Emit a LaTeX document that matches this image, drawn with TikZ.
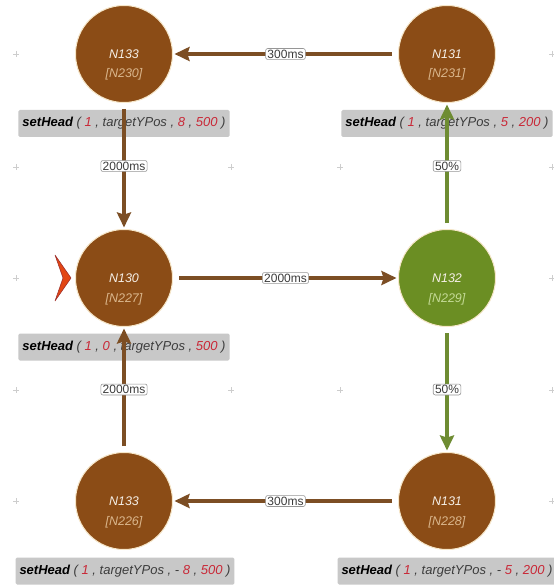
\documentclass[tikz,border=0pt]{standalone}
\usepackage{fontspec}
\setmainfont{Liberation Sans}
\usetikzlibrary{arrows.meta}

\definecolor{brownfill}{RGB}{139,76,22}
\definecolor{brownline}{RGB}{124,78,36}
\definecolor{greenfill}{RGB}{107,142,35}
\definecolor{greenline}{RGB}{110,140,50}
\definecolor{rimcol}{RGB}{246,230,200}
\definecolor{idtan}{RGB}{218,182,140}
\definecolor{idgreen}{RGB}{196,218,150}
\definecolor{titlecol}{RGB}{246,240,232}
\definecolor{boxgray}{RGB}{200,200,200}
\definecolor{argred}{RGB}{200,40,55}
\definecolor{argdark}{RGB}{60,60,60}
\definecolor{labtext}{RGB}{60,60,60}
\definecolor{labframe}{RGB}{150,150,150}
\definecolor{startred}{RGB}{226,70,20}
\definecolor{startdark}{RGB}{150,40,40}
\definecolor{gridplus}{RGB}{205,205,205}

\tikzset{
  state/.style={circle, minimum size=97pt, inner sep=0pt, draw=rimcol, line width=1pt},
  brownstate/.style={state, fill=brownfill},
  greenstate/.style={state, fill=greenfill},
  statetext/.style={font=\itshape\fontsize{12.5}{19.5}\selectfont, align=center, inner sep=0pt},
  actionbox/.style={fill=boxgray, rounded corners=1.5pt, minimum height=27pt, inner xsep=4pt,
    font=\itshape\fontsize{13}{15}\selectfont},
  bedge/.style={draw=brownline, line width=4pt,
    -{Stealth[length=15pt,width=14pt,inset=2pt]}, shorten <=6pt, shorten >=1.5pt},
  gedge/.style={bedge, draw=greenline},
  elabel/.style={fill=white, draw=labframe, rounded corners=2pt, line width=0.6pt,
    inner xsep=1.8pt, inner ysep=1.2pt, text=labtext, font=\fontsize{12}{13}\selectfont},
  plusmark/.style={draw=gridplus, line width=0.6pt}
}

% setHead ( a , b , c , d ) with numbers in red
\newcommand{\shsep}{\ \textcolor{argdark}{,}\ }
\newcommand{\shcall}[4]{\textcolor{black}{\textbf{setHead}}\ \textcolor{argdark}{(}\ #1\shsep #2\shsep #3\shsep #4\ \textcolor{argdark}{)}}
\newcommand{\shnum}[1]{\textcolor{argred}{#1}}
\newcommand{\shvar}[1]{\textcolor{argdark}{#1}}

\begin{document}
\begin{tikzpicture}[x=1pt,y=-1pt]
\useasboundingbox (0,0) rectangle (553,585);
\fill[white] (0,0) rectangle (553,585);

% background grid crosses
\foreach \py in {54,167,278,390,501} {
  \foreach \px in {16,552} {
    \draw[plusmark] (\px-3,\py) -- (\px+3,\py) (\px,\py-3) -- (\px,\py+3);
  }
}
\foreach \py in {167,390} {
  \foreach \px in {231,340} {
    \draw[plusmark] (\px-3,\py) -- (\px+3,\py) (\px,\py-3) -- (\px,\py+3);
  }
}

% states
\node[brownstate] (n230) at (124,54) {};
\node[brownstate] (n231) at (447,54) {};
\node[brownstate] (n227) at (124,278) {};
\node[greenstate] (n229) at (447,278) {};
\node[brownstate] (n226) at (124,501) {};
\node[brownstate] (n228) at (447,501) {};

% state captions (name on the centre line, id below)
\node[statetext, anchor=base] (t230) at ([yshift=-24pt]n230.center) {\textcolor{titlecol}{N133}\\\textcolor{idtan}{[N230]}};
\node[statetext, anchor=base] (t231) at ([yshift=-24pt]n231.center) {\textcolor{titlecol}{N131}\\\textcolor{idtan}{[N231]}};
\node[statetext, anchor=base] (t227) at ([yshift=-24pt]n227.center) {\textcolor{titlecol}{N130}\\\textcolor{idtan}{[N227]}};
\node[statetext, anchor=base] (t229) at ([yshift=-24pt]n229.center) {\textcolor{titlecol}{N132}\\\textcolor{idgreen}{[N229]}};
\node[statetext, anchor=base] (t226) at ([yshift=-24pt]n226.center) {\textcolor{titlecol}{N133}\\\textcolor{idtan}{[N226]}};
\node[statetext, anchor=base] (t228) at ([yshift=-24pt]n228.center) {\textcolor{titlecol}{N131}\\\textcolor{idtan}{[N228]}};

% action boxes
\node[actionbox] (a230) at (124,123.5) {\shcall{\shnum{1}}{\shvar{targetYPos}}{\shnum{8}}{\shnum{500}}};
\node[actionbox] (a231) at (447,123.5) {\shcall{\shnum{1}}{\shvar{targetYPos}}{\shnum{5}}{\shnum{200}}};
\node[actionbox] (a227) at (124,347) {\shcall{\shnum{1}}{\shnum{0}}{\shvar{targetYPos}}{\shnum{500}}};
\node[actionbox] (a226) at (125,571) {\shcall{\shnum{1}}{\shvar{targetYPos}}{\shvar{-}\ \shnum{8}}{\shnum{500}}};
\node[actionbox] (a228) at (447,571) {\shcall{\shnum{1}}{\shvar{targetYPos}}{\shvar{-}\ \shnum{5}}{\shnum{200}}};

% initial state marker
\filldraw[fill=startred, draw=startdark, line width=0.5pt, line join=round]
  (55,255) -- (71,278) -- (55,301) -- (63,278) -- cycle;

% transitions
\draw[bedge] (n231) -- node[elabel] (e1) {300ms} (n230);
\draw[bedge] (n230) -- node[elabel] (e2) {2000ms} (n227);
\draw[bedge] (n227) -- node[elabel] (e3) {2000ms} (n229);
\draw[gedge] (n229) -- node[elabel] (e4) {50\%} (n231);
\draw[gedge] (n229) -- node[elabel] (e5) {50\%} (n228);
\draw[bedge] (n228) -- node[elabel] (e6) {300ms} (n226);
\draw[bedge] (n226) -- node[elabel] (e7) {2000ms} (n227);
\end{tikzpicture}
\end{document}
